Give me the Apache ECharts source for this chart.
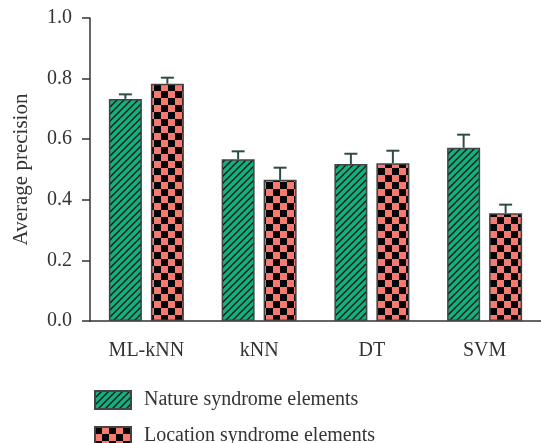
<!DOCTYPE html>
<html>
<head>
<meta charset="utf-8">
<script src="https://cdn.jsdelivr.net/npm/echarts@6/dist/echarts.min.js"></script>
<style>
  html, body { margin: 0; padding: 0; background: #fff; }
  #chart { width: 541px; height: 443px; }
</style>
</head>
<body>
<div id="chart"></div>
<script>
// Average precision per classifier, with the upper standard-error whisker.
const categories = ['ML-kNN', 'kNN', 'DT', 'SVM'];
const natureMean = [0.733, 0.534, 0.518, 0.572];
const natureErr  = [0.015, 0.026, 0.034, 0.043];
const locationMean = [0.783, 0.466, 0.521, 0.356];
const locationErr  = [0.020, 0.040, 0.041, 0.028];
const yTicks = [0.0, 0.2, 0.4, 0.6, 0.8, 1.0];
const seriesNames = ['Nature syndrome elements', 'Location syndrome elements'];

const FONT = '"Liberation Serif", "DejaVu Serif", serif';
const TEXT = '#333';
const GREEN = '#12b07f';
const PINK = '#f47a72';
const BAR_W = 33;
const BAR_GAP = 9;

// Diagonal hatch fill
function hatchPattern() {
  const s = 7;
  const c = document.createElement('canvas');
  c.width = s; c.height = s;
  const g = c.getContext('2d');
  g.fillStyle = GREEN;
  g.fillRect(0, 0, s, s);
  g.strokeStyle = '#111';
  g.lineWidth = 1.3;
  g.beginPath();
  g.moveTo(-1, s + 1); g.lineTo(s + 1, -1);
  g.moveTo(-1, 1); g.lineTo(1, -1);
  g.moveTo(s - 1, s + 1); g.lineTo(s + 1, s - 1);
  g.stroke();
  return { image: c, repeat: 'repeat' };
}

// Checkerboard fill
function checkerPattern() {
  const q = 7;
  const c = document.createElement('canvas');
  c.width = q * 2; c.height = q * 2;
  const g = c.getContext('2d');
  g.fillStyle = PINK;
  g.fillRect(0, 0, q * 2, q * 2);
  g.fillStyle = '#050505';
  g.fillRect(0, 0, q, q);
  g.fillRect(q, q, q, q);
  return { image: c, repeat: 'repeat' };
}

// Upper whisker with a cap, placed over the matching bar
function whisker(means, errs, offset) {
  return function (params, api) {
    const i = api.value(0);
    const base = api.coord([i, means[i]]);
    const top = api.coord([i, means[i] + errs[i]]);
    const x = base[0] + offset;
    const style = { stroke: '#2f4a47', lineWidth: 2 };
    return {
      type: 'group',
      children: [
        { type: 'line', shape: { x1: x, y1: base[1], x2: x, y2: top[1] }, style },
        { type: 'line', shape: { x1: x - 6.5, y1: top[1], x2: x + 6.5, y2: top[1] }, style }
      ]
    };
  };
}

const chart = echarts.init(document.getElementById('chart'));
const off = (BAR_W + BAR_GAP) / 2;

const legendBase = {
  left: 89,
  icon: 'rect',
  itemWidth: 36, itemHeight: 18,
  textStyle: { fontFamily: FONT, fontSize: 20, color: TEXT, padding: [0, 0, 0, 8] }
};

chart.setOption({
  animation: false,
  grid: { left: 90, right: 0, top: 18, bottom: 122, containLabel: false, outerBoundsMode: 'none' },
  legend: [
    Object.assign({ top: 385, data: [seriesNames[0]] }, legendBase),
    Object.assign({ top: 421, data: [seriesNames[1]] }, legendBase)
  ],
  xAxis: {
    type: 'category',
    data: categories,
    axisLine: { lineStyle: { color: '#333', width: 1.5 } },
    axisTick: { alignWithLabel: true, length: 7, lineStyle: { color: '#333', width: 1.5 } },
    axisLabel: { fontFamily: FONT, fontSize: 20, color: TEXT, margin: 20 }
  },
  yAxis: {
    type: 'value',
    min: 0, max: 1.0, interval: 0.2,
    name: 'Average precision',
    nameLocation: 'middle',
    nameGap: 58,
    nameTextStyle: { fontFamily: FONT, fontSize: 21, color: TEXT },
    splitLine: { show: false },
    axisLine: { show: true, lineStyle: { color: '#333', width: 1.5 } },
    axisTick: { show: true, length: 8, lineStyle: { color: '#333', width: 1.5 } },
    axisLabel: {
      fontFamily: FONT, fontSize: 20, color: TEXT, margin: 18,
      formatter: v => yTicks.includes(Math.round(v * 10) / 10) ? v.toFixed(1) : ''
    }
  },
  series: [
    {
      name: seriesNames[0], type: 'bar', data: natureMean,
      barWidth: BAR_W, barGap: (BAR_GAP / BAR_W * 100) + '%',
      itemStyle: { color: hatchPattern(), borderColor: '#444', borderWidth: 1.5 }
    },
    {
      name: seriesNames[1], type: 'bar', data: locationMean,
      barWidth: BAR_W,
      itemStyle: { color: checkerPattern(), borderColor: '#444', borderWidth: 1.5 }
    },
    {
      type: 'custom', silent: true, z: 5,
      data: categories.map((c, i) => [i]),
      renderItem: whisker(natureMean, natureErr, -off)
    },
    {
      type: 'custom', silent: true, z: 5,
      data: categories.map((c, i) => [i]),
      renderItem: whisker(locationMean, locationErr, off)
    }
  ]
});
</script>
</body>
</html>
